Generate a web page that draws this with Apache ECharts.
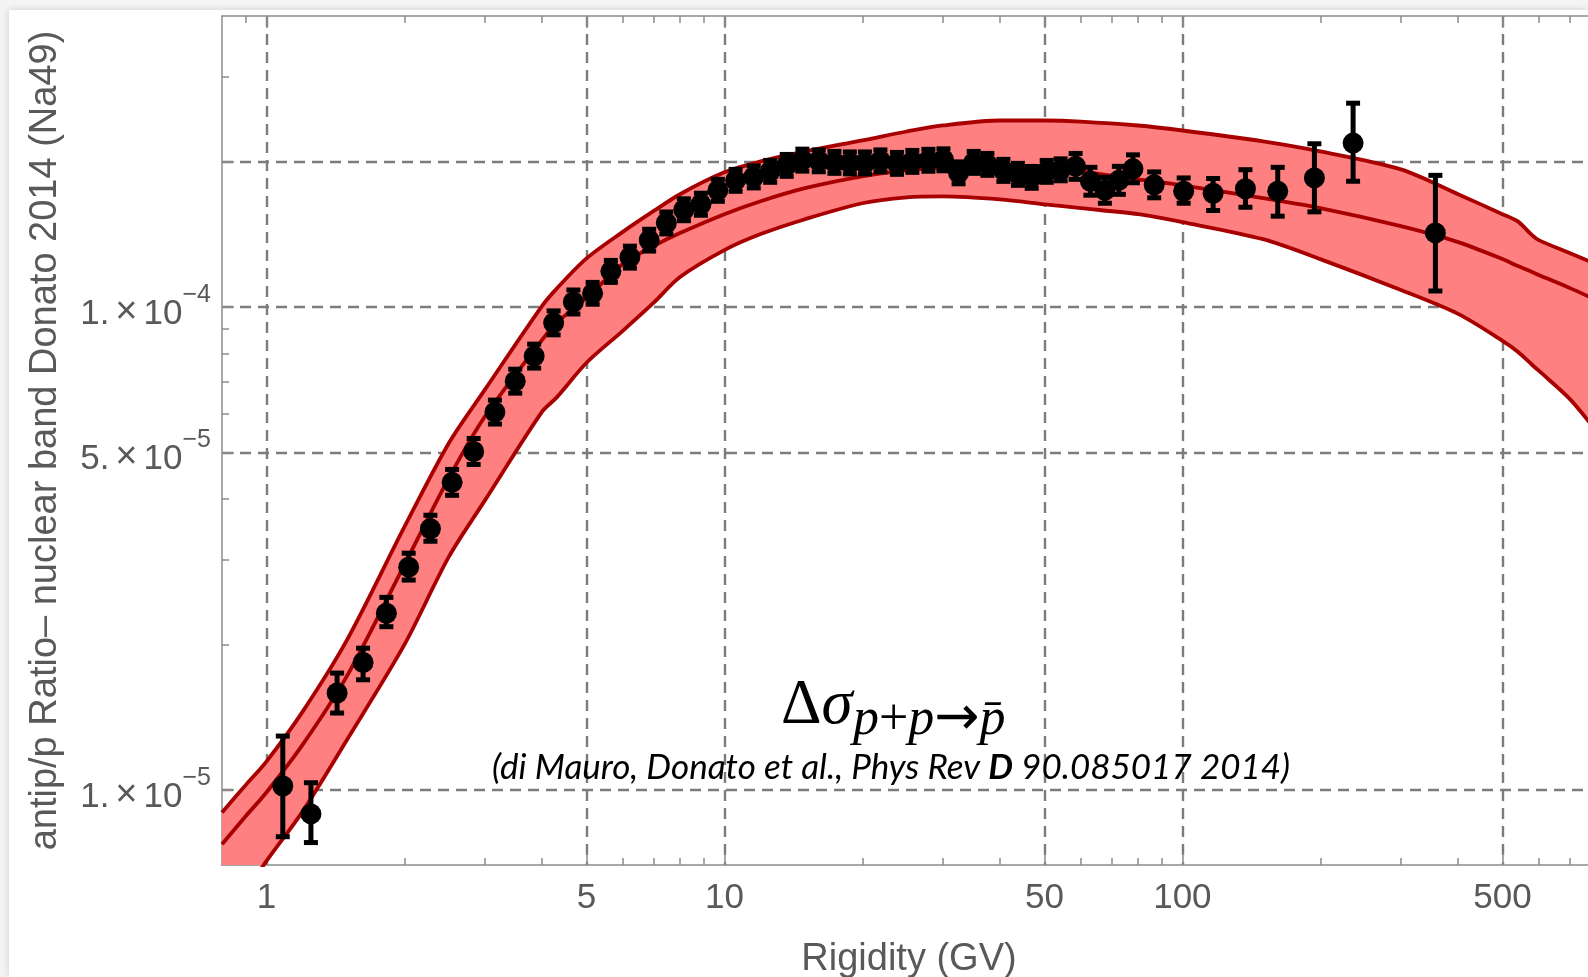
<!DOCTYPE html>
<html>
<head>
<meta charset="utf-8">
<title>antip/p ratio vs rigidity</title>
<script src="https://cdn.jsdelivr.net/npm/echarts@6/dist/echarts.min.js"></script>
<style>
  html, body { margin: 0; padding: 0; width: 1588px; height: 977px; overflow: hidden; background: #f4f4f4; }
  #panel { position: absolute; left: 9px; top: 10px; right: 0; bottom: 0; background: #fff; box-shadow: 0 0 7px rgba(0,0,0,0.16); }
  #chart { position: absolute; left: 0; top: 0; width: 1588px; height: 977px; }
</style>
</head>
<body>
<div id="panel"></div>
<div id="chart"></div>
<script>
// Ratios below are given in units of 1e-5
const RATIO_UNIT = 1e-5;

// Model band (nuclear cross-section uncertainty), sampled in rigidity (GV)
const bandRigidity = [0.8, 0.9, 1, 1.2, 1.5, 2, 2.5, 3, 4, 4.3, 5, 6, 7, 8, 10, 12, 15, 20, 25, 30,
                      40, 50, 60, 80, 100, 150, 200, 300, 400, 500, 540, 580, 600, 700, 800];
const bandUpper = [0.899, 1.023, 1.146, 1.454, 2.046, 3.500, 5.217, 6.742, 10.05, 10.90, 12.60, 14.30, 15.78, 17.11,
                   18.99, 20.01, 20.98, 22.11, 23.07, 23.74, 24.31, 24.31, 24.19, 23.74, 23.18, 22.01, 20.98,
                   19.26, 17.11, 15.56, 15.03, 14.08, 13.75, 12.93, 12.27];
const bandCentral = [0.773, 0.882, 0.989, 1.242, 1.724, 2.922, 4.417, 5.931, 8.550, 9.268, 10.44, 12.27, 13.36, 14.22,
                     15.56, 16.55, 17.61, 18.63, 19.17, 19.45, 19.54, 19.45, 19.08, 18.37, 17.85, 16.79, 16.01,
                     14.69, 13.62, 12.56, 12.15, 11.81, 11.64, 10.95, 10.34];
const bandLower = [0.528, 0.615, 0.713, 0.904, 1.272, 1.998, 3.035, 3.978, 6.073, 6.491, 7.664, 8.923, 10.19, 11.53,
                   13.11, 14.15, 15.19, 16.39, 16.86, 16.94, 16.70, 16.31, 16.01, 15.56, 14.98, 13.81, 12.56,
                   10.84, 9.673, 8.509, 8.077, 7.592, 7.379, 6.460, 5.549];

// Measured antip/p ratio with error bars
const pointRigidity = [1.086, 1.251, 1.427, 1.626, 1.828, 2.045, 2.281, 2.544, 2.835, 3.155, 3.494, 3.843, 4.238,
                       4.681, 5.156, 5.651, 6.219, 6.851, 7.469, 8.157, 8.887, 9.678, 10.58, 11.59, 12.59, 13.68,
                       14.80, 16.07, 17.39, 18.79, 20.27, 21.91, 23.81, 25.73, 27.89, 30.08, 32.46, 35.03, 37.52,
                       40.66, 43.74, 46.88, 50.55, 54.22, 58.47, 62.97, 67.73, 72.66, 77.99, 86.79, 100.65, 116.7,
                       137.3, 161.5, 194.2, 235.9, 356.8];
const pointRatio = [1.020, 0.893, 1.589, 1.837, 2.323, 2.894, 3.475, 4.335, 5.022, 6.059, 7.020, 7.911, 9.269,
                    10.24, 10.67, 11.85, 12.68, 13.75, 14.92, 15.89, 16.31, 17.43, 18.28, 18.58, 19.08, 19.63,
                    20.13, 20.06, 19.91, 19.86, 19.86, 20.06, 19.82, 20.01, 20.11, 20.16, 18.94, 19.91, 19.72,
                    19.17, 18.81, 18.54, 19.08, 19.22, 19.54, 18.20, 17.43, 18.28, 19.31, 17.89, 17.35, 17.19,
                    17.56, 17.35, 18.49, 21.83, 14.23];
const pointLow = [0.801, 0.779, 1.444, 1.692, 2.179, 2.721, 3.274, 4.075, 4.721, 5.723, 6.631, 7.472, 8.755,
                  9.67, 10.13, 11.24, 12.03, 13.05, 14.16, 15.08, 15.48, 16.54, 17.35, 17.63, 18.11, 18.63,
                  19.10, 19.04, 18.90, 18.85, 18.85, 19.04, 18.81, 18.99, 19.09, 19.13, 17.98, 18.90, 18.72,
                  18.19, 17.85, 17.60, 18.11, 18.24, 18.37, 17.03, 16.39, 17.10, 18.07, 16.82, 16.39, 15.83,
                  16.08, 15.41, 15.73, 18.20, 10.79];
const pointHigh = [1.294, 1.036, 1.747, 1.967, 2.506, 3.093, 3.706, 4.610, 5.342, 6.415, 7.432, 8.375, 9.813,
                   10.84, 11.24, 12.48, 13.36, 14.48, 15.72, 16.74, 17.19, 18.37, 19.26, 19.58, 20.10, 20.68,
                   21.21, 21.13, 20.98, 20.93, 20.93, 21.13, 20.88, 21.08, 21.19, 21.24, 19.96, 20.98, 20.78,
                   20.20, 19.82, 19.53, 20.10, 20.25, 20.78, 19.45, 18.54, 19.54, 20.64, 19.03, 18.49, 18.44,
                   19.23, 19.45, 21.76, 26.40, 18.72];

// Axis ticks
const xMajorTicks = [1, 5, 10, 50, 100, 500];
const xMinorTicks = [0.9, 2, 3, 4, 6, 7, 8, 9, 20, 30, 40, 60, 70, 80, 90, 200, 300, 400, 600, 700];
const yMajorTicks = [1e-5, 5e-5, 1e-4, 2e-4];
const yLabelTicks = [1e-5, 5e-5, 1e-4];
const yMinorTicks = [8e-6, 9e-6, 2e-5, 3e-5, 4e-5, 6e-5, 7e-5, 8e-5, 9e-5, 3e-4];

const X_RANGE = [0.8, 800];
const Y_RANGE = [7e-6, 4e-4];

const TEXT_GRAY = '#595959';
const FRAME_GRAY = '#8c8c8c';
const GRID_GRAY = '#7c7c7c';
const BAND_FILL = '#ff8080';
const BAND_EDGE = '#a80000';
const SANS = '"Liberation Sans", Arial, sans-serif';
const SERIF = '"Liberation Serif", "DejaVu Serif", serif';

const pairs = (xs, ys) => xs.map((x, i) => [x, ys[i] * RATIO_UNIT]);

function frameAxis(range, position, ticks, tickLen, withLine) {
  return {
    type: 'log', logBase: 10, min: range[0], max: range[1], position: position, silent: true,
    axisLine: { show: withLine, onZero: false, lineStyle: { color: FRAME_GRAY, width: 1.5 } },
    axisTick: { show: true, inside: true, length: tickLen, customValues: ticks,
                lineStyle: { color: FRAME_GRAY, width: 1.5 } },
    minorTick: { show: false },
    axisLabel: { show: false },
    splitLine: { show: false },
    axisPointer: { show: false }
  };
}

const gridDash = { show: true, lineStyle: { color: GRID_GRAY, width: 2.4, type: [11, 7] } };

const xMain = Object.assign(frameAxis(X_RANGE, 'bottom', xMajorTicks, 12, true), {
  axisLabel: {
    show: true, customValues: xMajorTicks, margin: 16,
    fontSize: 35, fontFamily: SANS, color: TEXT_GRAY,
    formatter: v => String(Math.round(v))
  },
  splitLine: gridDash,
  name: 'Rigidity (GV)', nameLocation: 'middle', nameGap: 76,
  nameTextStyle: { fontSize: 38, fontFamily: SANS, color: TEXT_GRAY }
});

const yMain = Object.assign(frameAxis(Y_RANGE, 'left', yMajorTicks, 12, true), {
  axisLabel: {
    show: true, customValues: yLabelTicks, margin: 11,
    formatter: v => {
      const e = Math.floor(Math.log10(v) + 1e-9);
      const m = Math.round(v / Math.pow(10, e));
      return '{b|' + m + '.}{x|\u00d7}{b|10}{e|\u2212' + (-e) + '}';
    },
    rich: {
      b: { fontSize: 35, fontFamily: SANS, color: TEXT_GRAY, lineHeight: 49, verticalAlign: 'bottom' },
      x: { fontSize: 38, fontFamily: SANS, color: TEXT_GRAY, lineHeight: 49, verticalAlign: 'bottom', padding: [0, 6, 0, 6] },
      e: { fontSize: 25, fontFamily: SANS, color: TEXT_GRAY, lineHeight: 25, verticalAlign: 'top' }
    }
  },
  splitLine: gridDash,
  name: 'antip/p Ratio\u2013 nuclear band Donato 2014 (Na49)',
  nameLocation: 'middle', nameRotate: 90, nameGap: 157,
  nameTextStyle: { fontSize: 38, fontFamily: SANS, color: TEXT_GRAY }
});

const bandLine = (name, values) => ({
  name: name, type: 'line', data: pairs(bandRigidity, values),
  showSymbol: false, smooth: 0.3, z: 2, silent: true,
  lineStyle: { color: BAND_EDGE, width: 3.8, join: 'round' }
});

// band fill: one quadrilateral per sampling interval, between lower and upper edge
const bandSlabs = bandRigidity.slice(0, -1).map((x, i) => [
  x, bandLower[i] * RATIO_UNIT, bandUpper[i] * RATIO_UNIT,
  bandRigidity[i + 1], bandLower[i + 1] * RATIO_UNIT, bandUpper[i + 1] * RATIO_UNIT
]);

const option = {
  animation: false,
  backgroundColor: 'transparent',
  grid: { left: 222, right: -8, top: 16, bottom: 112, containLabel: false, outerBoundsMode: 'none' },
  xAxis: [
    xMain,
    frameAxis(X_RANGE, 'bottom', xMinorTicks, 7, false),
    frameAxis(X_RANGE, 'top', xMajorTicks, 12, true),
    frameAxis(X_RANGE, 'top', xMinorTicks, 7, false)
  ],
  yAxis: [
    yMain,
    frameAxis(Y_RANGE, 'left', yMinorTicks, 7, false)
  ],
  series: [
    {
      type: 'custom', z: 1, silent: true, clip: true,
      data: bandSlabs,
      encode: { x: [0, 3], y: [1, 2, 4, 5] },
      renderItem: (params, api) => {
        const a = api.coord([api.value(0), api.value(2)]);
        const b = api.coord([api.value(3), api.value(5)]);
        const c = api.coord([api.value(3), api.value(4)]);
        const d = api.coord([api.value(0), api.value(1)]);
        return {
          type: 'polygon',
          shape: { points: [a, b, c, d] },
          style: { fill: BAND_FILL, stroke: BAND_FILL, lineWidth: 1 }
        };
      }
    },
    bandLine('upper', bandUpper),
    bandLine('central', bandCentral),
    bandLine('lower', bandLower),
    // error bars
    {
      type: 'custom', z: 3, silent: true, clip: true,
      data: pointRigidity.map((x, i) => [x, pointRatio[i] * RATIO_UNIT, pointLow[i] * RATIO_UNIT, pointHigh[i] * RATIO_UNIT]),
      encode: { x: 0, y: [1, 2, 3] },
      renderItem: (params, api) => {
        const x = api.value(0);
        const hi = api.coord([x, api.value(3)]);
        const lo = api.coord([x, api.value(2)]);
        const cap = 7;
        const st = { stroke: '#000', lineWidth: 5 };
        return {
          type: 'group',
          children: [
            { type: 'line', shape: { x1: hi[0], y1: hi[1], x2: lo[0], y2: lo[1] }, style: st },
            { type: 'line', shape: { x1: hi[0] - cap, y1: hi[1], x2: hi[0] + cap, y2: hi[1] }, style: st },
            { type: 'line', shape: { x1: lo[0] - cap, y1: lo[1], x2: lo[0] + cap, y2: lo[1] }, style: st }
          ]
        };
      }
    },
    // data points
    {
      type: 'scatter', z: 4, silent: true,
      data: pairs(pointRigidity, pointRatio),
      symbol: 'circle', symbolSize: 21,
      itemStyle: { color: '#000', opacity: 1 }
    }
  ],
  graphic: [
    {
      type: 'text', x: 781, y: 706, silent: true, z: 10,
      style: {
        text: '{u|\u0394}{i|\u03c3}',
        align: 'left', verticalAlign: 'middle',
        rich: {
          u: { fontSize: 63, fontFamily: SERIF, fill: '#000' },
          i: { fontSize: 63, fontFamily: SERIF, fontStyle: 'italic', fill: '#000' }
        }
      }
    },
    {
      type: 'text', x: 853, y: 720, silent: true, z: 10,
      style: {
        text: '{i|p}{u|+}{i|p}{a|\u2192}{i|p\u0304}',
        align: 'left', verticalAlign: 'middle',
        rich: {
          u: { fontSize: 52, fontFamily: SERIF, fill: '#000' },
          a: { fontSize: 54, fontFamily: '"DejaVu Sans", sans-serif', fill: '#000' },
          i: { fontSize: 52, fontFamily: SERIF, fontStyle: 'italic', fill: '#000' }
        }
      }
    },
    {
      type: 'text', x: 891, y: 768, silent: true, z: 10,
      style: {
        text: '{i|(di Mauro, Donato et al., Phys Rev }{b|D}{i| 90.085017 2014)}',
        align: 'center', verticalAlign: 'middle',
        rich: {
          i: { fontSize: 35, fontFamily: 'Lato, sans-serif', fontStyle: 'italic', fill: '#000' },
          b: { fontSize: 35, fontFamily: 'Lato, sans-serif', fontStyle: 'italic', fontWeight: 'bold', fill: '#000' }
        }
      }
    }
  ]
};

const chart = echarts.init(document.getElementById('chart'), null, { renderer: 'canvas' });
chart.setOption(option);
</script>
</body>
</html>
